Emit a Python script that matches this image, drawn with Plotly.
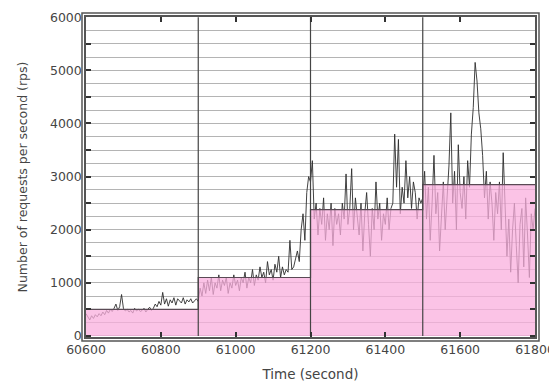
import plotly.graph_objects as go

# Observed request rate, sampled every 5 seconds
t_start = 60600
t_step = 5
seg1 = [420, 350, 300, 380, 330, 400, 360, 420, 380, 450, 400, 480, 430, 500, 460, 520, 600, 480, 550, 780,
        520, 470, 500, 450, 480, 430, 520, 470, 500, 460, 480, 520, 450, 500, 540, 480, 520, 600, 550, 650,
        580, 820, 600, 700, 560, 680, 620, 720, 580, 700, 650, 620, 720, 600, 680, 640, 700, 620, 660, 700]
seg2 = [650, 900, 750, 1000, 800, 1050, 850, 1100, 780, 1000, 900, 1150, 850, 1050, 950, 1100, 800, 1000, 900, 1150,
        950, 1050, 850, 1100, 1000, 1200, 900, 1100, 1000, 1250, 950, 1150, 1050, 1300, 1100, 1200, 1000, 1400, 1150, 1250,
        1050, 1350, 1200, 1500, 1100, 1300, 1150, 1250, 1200, 1800, 1250, 1300, 1450, 1600, 1400, 2000, 2300, 1800, 2700, 3000]
seg3 = [2900, 3300, 2200, 2500, 1900, 2400, 2100, 2600, 1800, 2300, 2000, 2500, 1700, 2400, 2100, 2300, 1900, 2500, 2200, 3050,
        2100, 2400, 3150, 2000, 2600, 2200, 1900, 2500, 1600, 2300, 2700, 2100, 1500, 2400, 2000, 2900, 2200, 2500, 1800, 2300,
        2100, 2600, 2000, 2400, 2500, 3800, 2800, 3700, 2300, 2800, 2500, 3300, 2600, 3000, 2400, 2900, 2700, 2200, 2600, 2500]
seg4 = [2600, 3100, 2200, 2800, 1800, 2500, 3400, 2300, 2700, 1600, 2400, 2900, 2000, 2600, 3200, 4200, 2500, 3100, 2000, 3600,
        2700, 2400, 3000, 2200, 3300, 2800, 3800, 4300, 5150, 4800, 4200, 3900, 3400, 2600, 3100, 2200, 2900, 2500, 1800, 2700,
        2300, 2900, 2000, 3450, 2400, 1500, 2200, 1200, 2000, 2500, 1700, 1000, 2100, 2400, 1300, 2600, 1900, 1100, 2300, 2000, 2400]
rps = seg1 + seg2 + seg3 + seg4
times = [t_start + i * t_step for i in range(len(rps))]

# Provisioned capacity steps
step_times = [60600, 60900, 61200, 61500, 61800]
step_values = [500, 1100, 2380, 2850, 2850]
boundaries = [60900, 61200, 61500]

x_ticks = [60600, 60800, 61000, 61200, 61400, 61600, 61800]
x_labels = ["60600", "60800", "61000", "61200", "61400", "61600", "61800"]
y_ticks = [0, 500, 1000, 1500, 2000, 2500, 3000, 3500, 4000, 4500, 5000, 5500, 6000]
y_labels = ["0", "", "1000", "", "2000", "", "3000", "", "4000", "", "5000", "", "6000"]

fig = go.Figure()

fig.add_trace(go.Scatter(x=times, y=rps, mode="lines",
                         line=dict(color="#2e2e2e", width=0.9), showlegend=False))
fig.add_trace(go.Scatter(x=step_times, y=step_values, mode="lines", line_shape="hv",
                         fill="tozeroy", fillcolor="rgba(249,175,222,0.75)",
                         line=dict(color="#5a4a55", width=1.2), showlegend=False))
for b in boundaries:
    fig.add_trace(go.Scatter(x=[b, b], y=[0, 6000], mode="lines",
                             line=dict(color="#444444", width=1.2), showlegend=False))

tick_font = dict(family="DejaVu Sans, sans-serif", size=12.5, color="#454545")

W, H = 549, 380
ml, mr, mt, mb = 78, 22, 9, 51
pw, ph = W - ml - mr, H - mt - mb
fig.add_shape(type="rect", xref="paper", yref="paper",
              x0=-4 / pw, x1=1 + 4 / pw, y0=-4 / ph, y1=1 + 4 / ph,
              line=dict(color="#555555", width=1.5), layer="above")

fig.update_layout(
    width=W, height=H,
    margin=dict(l=ml, r=mr, t=mt, b=mb),
    paper_bgcolor="white", plot_bgcolor="white",
    font=tick_font,
    xaxis=dict(range=[60600, 61800], tickvals=x_ticks, ticktext=x_labels, ticks="inside", ticklen=5,
               tickcolor="#333", tickwidth=1.5, showgrid=False, zeroline=False, automargin=False,
               showline=True, linecolor="#555", linewidth=1.5, mirror="allticks",
               title=dict(text="Time (second)", font=dict(family="DejaVu Sans, sans-serif", size=13.5, color="#454545"), standoff=14),
               tickfont=tick_font),
    yaxis=dict(range=[-20, 6005], tickvals=y_ticks, ticktext=y_labels, ticks="inside", ticklen=5,
               tickcolor="#333", tickwidth=1.5, showgrid=True, zeroline=False, automargin=False,
               minor=dict(dtick=250, showgrid=True, gridcolor="#b4b4b4", gridwidth=1),
               gridcolor="#b4b4b4", gridwidth=1,
               showline=True, linecolor="#555", linewidth=1.5, mirror="allticks",
               title=dict(text="Number of requests per second (rps)", font=dict(family="DejaVu Sans, sans-serif", size=12.5, color="#454545"), standoff=20),
               tickfont=tick_font),
)

fig.write_html("out.html")
